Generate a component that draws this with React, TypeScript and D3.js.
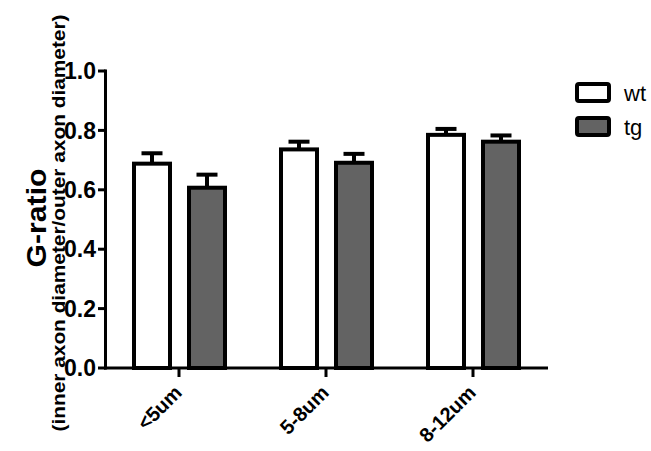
import React from 'react';
import * as d3 from 'd3';

const categories = ['<5um', '5-8um', '8-12um'];
const series = ['wt', 'tg'];
const wtValues = [0.688, 0.736, 0.785];
const wtErrors = [0.035, 0.026, 0.02];
const tgValues = [0.607, 0.691, 0.762];
const tgErrors = [0.044, 0.03, 0.021];
const yTicks = [0, 0.2, 0.4, 0.6, 0.8, 1.0];

const W = 651;
const H = 451;
const font = 'Arial, "Liberation Sans", Helvetica, sans-serif';
const fills: Record<string, string> = { wt: '#ffffff', tg: '#636363' };

const App: React.FC = () => {
  const y = d3.scaleLinear().domain([0, 1]).range([368, 71]);
  const x0 = d3.scaleBand<string>().domain(categories).range([105.5, 546.5]).padding(0);
  const x1 = d3.scaleBand<string>().domain(series).range([19, 129]).padding(0);
  const barW = 36;
  const fmt = d3.format('.1f');

  const rows = categories.map((c, i) => ({
    c,
    bars: [
      { s: 'wt', v: wtValues[i], e: wtErrors[i] },
      { s: 'tg', v: tgValues[i], e: tgErrors[i] },
    ],
  }));

  return (
    <svg width={W} height={H} style={{ position: 'absolute', left: 0, top: 0, background: '#fff' }}>
      {/* bars */}
      {rows.map((r) => (
        <g key={r.c} transform={`translate(${x0(r.c)},0)`}>
          {r.bars.map((b) => {
            const cx = (x1(b.s) as number) + x1.bandwidth() / 2;
            const top = y(b.v);
            return (
              <g key={b.s}>
                <line x1={cx} x2={cx} y1={y(b.v + b.e)} y2={y(b.v - b.e)} stroke="#000" strokeWidth={4} />
                <line x1={cx - 10.5} x2={cx + 10.5} y1={y(b.v + b.e)} y2={y(b.v + b.e)} stroke="#000" strokeWidth={4} />
                <line x1={cx - 10.5} x2={cx + 10.5} y1={y(b.v - b.e)} y2={y(b.v - b.e)} stroke="#000" strokeWidth={4} />
                <rect x={cx - barW / 2} y={top} width={barW} height={y(0) - top} fill={fills[b.s]} stroke="#000" strokeWidth={4} />
              </g>
            );
          })}
        </g>
      ))}

      {/* y axis */}
      <line x1={105.5} x2={105.5} y1={y(0) + 1.5} y2={y(1) - 1.5} stroke="#000" strokeWidth={3} />
      {yTicks.map((t) => (
        <g key={t} transform={`translate(0,${y(t)})`}>
          <line x1={98} x2={105.5} stroke="#000" strokeWidth={3} />
          <text x={96} dy="0.36em" textAnchor="end" fontFamily={font} fontWeight="bold" fontSize={23}>
            {fmt(t)}
          </text>
        </g>
      ))}

      {/* x axis */}
      <line x1={104} x2={548} y1={y(0)} y2={y(0)} stroke="#000" strokeWidth={3} />
      {categories.map((c) => {
        const cx = (x0(c) as number) + x0.bandwidth() / 2;
        return (
          <g key={c} transform={`translate(${cx},${y(0)})`}>
            <line y1={0} y2={9} stroke="#000" strokeWidth={3} />
            <text
              transform="translate(4,26) rotate(-45)"
              textAnchor="end"
              fontFamily={font}
              fontWeight="bold"
              fontSize={20}
            >
              {c}
            </text>
          </g>
        );
      })}

      {/* axis titles */}
      <text
        transform="translate(46,218) rotate(-90)"
        textAnchor="middle"
        fontFamily={font}
        fontWeight="bold"
        fontSize={27}
        textLength={99}
        lengthAdjust="spacingAndGlyphs"
      >
        G-ratio
      </text>
      <text
        transform="translate(65,223) rotate(-90)"
        textAnchor="middle"
        fontFamily={font}
        fontWeight="bold"
        fontSize={18}
        textLength={417}
        lengthAdjust="spacingAndGlyphs"
      >
        (inner axon diameter/outer axon diameter)
      </text>

      {/* legend */}
      {series.map((s, i) => (
        <g key={s} transform={`translate(577,${84 + i * 34})`}>
          <rect width={32} height={17} fill={fills[s]} stroke="#000" strokeWidth={4} rx={2} />
          <text x={47} y={9} dy="0.35em" fontFamily={font} fontSize={22}>
            {s}
          </text>
        </g>
      ))}
    </svg>
  );
};

export default App;
